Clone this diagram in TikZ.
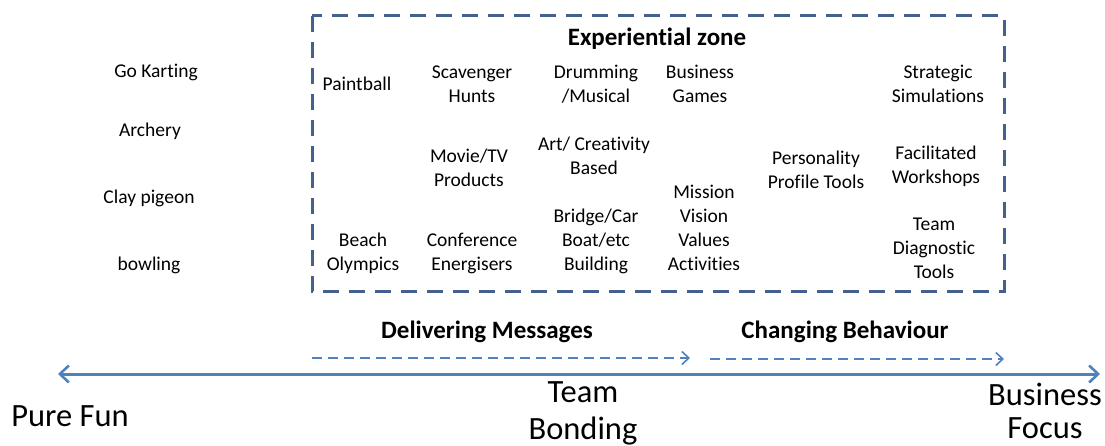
\documentclass[tikz,border=0pt]{standalone}
\usepackage{fontspec}
\setmainfont[Ligatures=NoCommon]{Carlito}
\usepackage{tikz}
\usetikzlibrary{arrows.meta}
\definecolor{zoneblue}{RGB}{68,96,142}
\definecolor{axisblue}{RGB}{79,129,189}

\begin{document}
\begin{tikzpicture}[x=1pt, y=-1pt,
  act/.style={align=center, inner sep=0pt, font=\fontsize{19.5}{24}\selectfont},
  head/.style={align=center, inner sep=0pt, font=\fontsize{25}{30}\selectfont\bfseries},
  ends/.style={align=center, inner sep=0pt, font=\fontsize{32.5}{37}\selectfont},
  dasharr/.style={axisblue, line width=2pt, dash pattern=on 10pt off 6pt, -{Straight Barb[length=7pt, width=13pt, line width=1.6pt]}},
  axis/.style={axisblue, line width=3pt, {Straight Barb[length=9pt, width=17pt, line width=2.6pt]}-{Straight Barb[length=9pt, width=17pt, line width=2.6pt]}}]
  \useasboundingbox (0,0) rectangle (1105,446);

  % activities outside the zone
  \node[act] (kart) at (156,72) {Go Karting};
  \node[act] (arch) at (150,131) {Archery};
  \node[act] (clay) at (149,198) {Clay pigeon};
  \node[act] (bowl) at (149,265) {bowling};

  % experiential zone
  \draw[zoneblue, line width=3pt, dash pattern=on 16pt off 10pt] (312,16) rectangle (1004,291);
  \node[head] (zone) at (657,39) {Experiential zone};
  \node[act] (paint) at (357,84) {Paintball};
  \node[act] (scav) at (472,84) {Scavenger\\Hunts};
  \node[act] (drum) at (596,84) {Drumming\\/Musical};
  \node[act] (bgames) at (700,84) {Business\\Games};
  \node[act] (strat) at (938,84) {Strategic\\Simulations};
  \node[act] (movie) at (469,168) {Movie/TV\\Products};
  \node[act] (art) at (594,156) {Art/ Creativity\\Based};
  \node[act] (pers) at (816,170) {Personality\\Profile Tools};
  \node[act] (facil) at (936,166) {Facilitated\\Workshops};
  \node[act] (mission) at (704,228) {Mission\\Vision\\Values\\Activities};
  \node[act] (beach) at (363,253) {Beach\\Olympics};
  \node[act] (conf) at (472,253) {Conference\\Energisers};
  \node[act] (bridge) at (596,241) {Bridge/Car\\Boat/etc\\Building};
  \node[act] (diag) at (934,248) {Team\\Diagnostic\\Tools};

  % purpose arrows
  \node[head] (deliver) at (487,332) {Delivering Messages};
  \node[head] (change) at (845,332) {Changing Behaviour};
  \coordinate (d0) at (312,358);
  \coordinate (d1) at (690,358);
  \coordinate (c0) at (710,359);
  \coordinate (c1) at (1004,359);
  \draw[dasharr] (d0) -- (d1);
  \draw[dasharr] (c0) -- (c1);

  % main scale
  \coordinate (fun) at (58,374);
  \coordinate (biz) at (1100,374);
  \draw[axis] (fun) -- (biz);
  \node[ends] (pure) at (70,416) {Pure Fun};
  \node[ends] (bond) at (583,413) {Team\\Bonding};
  \node[ends, font=\fontsize{32.5}{33}\selectfont] (focus) at (1045,411) {Business\\Focus};
\end{tikzpicture}
\end{document}
